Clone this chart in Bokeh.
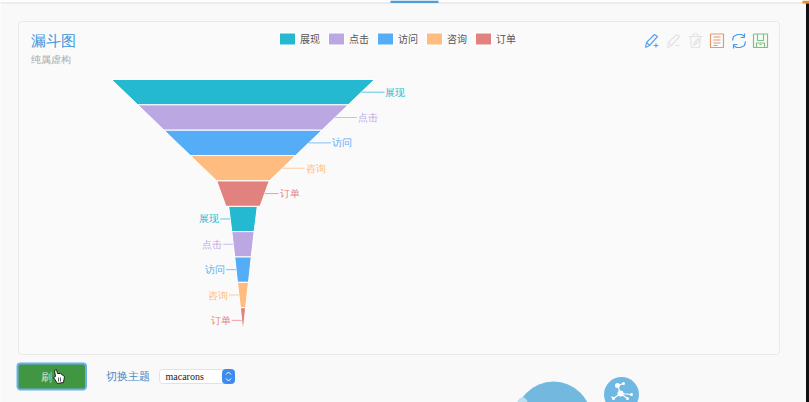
from bokeh.embed import file_html
from bokeh.models import Legend, LegendItem, Range1d
from bokeh.plotting import figure
from bokeh.resources import INLINE

CJK = "Noto Sans CJK SC"

names = ["展现", "点击", "访问", "咨询", "订单"]
colors = ["#25b9d1", "#bba8e3", "#56adf7", "#febc80", "#e2827f"]
upper_values = [100, 80, 60, 40, 20]
upper_end = 13
lower_values = [10.9, 8.5, 6.3, 4.2, 2.0]
lower_end = 0

title = "漏斗图"
subtitle = "纯属虚构"
button_text = "刷"
theme_label = "切换主题"
theme_value = "macarons"

# page chrome is laid out in window pixels, the page template has no margin here
p = figure(width=809, height=402, output_backend="svg", toolbar_location=None,
           x_range=Range1d(0, 809), y_range=Range1d(402, 0),
           x_axis_location=None, y_axis_location=None, min_border=0)
p.grid.visible = False
p.outline_line_color = None
p.background_fill_color = "#f9f9f9"
p.border_fill_color = "#f9f9f9"

# funnel scale: x in funnel value units around the centre, y in stages
p.extra_x_ranges["funnel"] = Range1d(-92.2, 215.4)
p.extra_y_ranges["stage"] = Range1d(12.74, -3.116)

leader_up = [8.8, 8.4, 8.4, 8.4, 5.3]
leader_lo = 3.8


def label(x, y, text, color, size, align="left"):
    p.text([x], [y], text=[text], text_color=color, text_font=CJK, text_font_size=size,
           text_align=align, text_baseline="middle")


def lines(x0, y0, paths, color, width=1.2):
    p.multi_line([[x0 + a for a, _ in path] for path in paths],
                 [[y0 + b for _, b in path] for path in paths],
                 line_color=color, line_width=width)


# browser edge and top nav bar
p.quad(left=0, right=809, top=0, bottom=2, fill_color="#ffffff", line_color=None)
p.quad(left=0, right=805, top=2, bottom=3, fill_color="#dedede", line_color=None)
p.quad(left=390, right=438, top=0, bottom=2.5, fill_color="#4f9ed6", line_color=None)
p.quad(left=802, right=809, top=0, bottom=3, fill_color="#f08a2c", line_color=None)
p.quad(left=805.5, right=809, top=3, bottom=402, fill_color="#111111", line_color=None)

# card
p.quad(left=18, right=779, top=21, bottom=354, fill_color="#fbfafb",
       line_color="#e9e9e9", border_radius=3)
label(30.5, 40.5, title, "#3a96dc", "14.5px")
label(30.5, 59, subtitle, "#aaaaaa", "10px")

# funnel
items = []
for i, name in enumerate(names):
    up_next = upper_values[i + 1] if i < 4 else upper_end
    lo_next = lower_values[i + 1] if i < 4 else lower_end
    up, lo = upper_values[i], lower_values[i]
    r = p.patches(
        xs=[[-up / 2, up / 2, up_next / 2, -up_next / 2],
            [-lo / 2, lo / 2, lo_next / 2, -lo_next / 2]],
        ys=[[i, i, i + 1, i + 1], [i + 5, i + 5, i + 6, i + 6]],
        fill_color=colors[i], line_color="#ffffff", line_width=1,
        x_range_name="funnel", y_range_name="stage")
    items.append(LegendItem(label=name, renderers=[r]))

    # leader lines and labels
    x_up = (up + up_next) / 4
    x_lo = -(lo + lo_next) / 4
    p.segment([x_up], [i + 0.5], [x_up + leader_up[i]], [i + 0.5], line_color=colors[i], line_alpha=0.75,
              x_range_name="funnel", y_range_name="stage")
    p.segment([x_lo], [i + 5.5], [x_lo - leader_lo], [i + 5.5], line_color=colors[i], line_alpha=0.75,
              x_range_name="funnel", y_range_name="stage")
    p.text([x_up + leader_up[i]], [i + 0.5], text=[name], text_color=colors[i], text_font=CJK,
           text_font_size="10px", text_baseline="middle", x_offset=1,
           x_range_name="funnel", y_range_name="stage")
    p.text([x_lo - leader_lo], [i + 5.5], text=[name], text_color=colors[i], text_font=CJK,
           text_font_size="10px", text_baseline="middle", text_align="right", x_offset=-1,
           x_range_name="funnel", y_range_name="stage")

legend = Legend(items=items, orientation="horizontal", location=(277, 356.5), padding=0, margin=0,
                spacing=6, glyph_width=20, glyph_height=15, label_standoff=3,
                label_text_font=CJK, label_text_font_size="10px", label_text_color="#555555",
                background_fill_alpha=0, border_line_color=None, label_height=12)
p.add_layout(legend)

# toolbox icons
lines(644, 33, [[(1, 14), (2, 9), (10, 1), (13, 3), (5, 12), (1, 14)], [(2, 9), (5, 12)],
                [(9, 12), (14, 12)], [(11.5, 10), (11.5, 14)]], "#5ba3ee")
lines(666, 33, [[(1, 14), (2, 9), (10, 1), (13, 3), (5, 12), (1, 14)], [(2, 9), (5, 12)],
                [(9, 12), (13, 12)]], "#e3e3e3")
lines(688, 33, [[(0, 3), (14, 3)], [(4, 3), (5, 0.5), (9, 0.5), (10, 3)],
                [(2, 3), (3, 14), (11, 14), (12, 3)], [(5, 12), (6, 9), (10, 5), (11, 7), (7, 11), (5, 12)]],
      "#e3e3e3")
lines(710, 33, [[(0, 0.5), (13, 0.5), (13, 14), (0, 14), (0, 0.5)], [(3, 3.5), (10, 3.5)], [(3, 6.5), (10, 6.5)],
                [(3, 9.5), (10, 9.5)], [(3, 12), (7, 12)]], "#e09a6b")
lines(731, 33, [[(1, 7), (2, 3), (6, 1), (10, 1), (13, 3)], [(13, 0), (13, 4), (9, 4)],
                [(14, 8), (13, 12), (9, 14), (5, 14), (2, 12)], [(2, 15), (2, 11), (6, 11)]], "#4a9bee")
lines(753, 33, [[(0, 0.5), (14, 0.5), (14, 14), (0, 14), (0, 0.5)], [(4, 0.5), (4, 7), (10, 7), (10, 0.5)],
                [(3, 14), (3, 9.5), (11, 9.5), (11, 14)], [(6, 11), (8, 11)]], "#7ac47a")

# refresh button
p.quad(left=17, right=85.5, top=363, bottom=389, fill_color="#419641", line_color="#6aaef0",
       line_width=2, border_radius=3)
label(40, 376.5, button_text, "#cfe5cf", "11px")
hand = [(54, 370), (56, 369), (57, 373), (60, 373), (64, 376), (63, 382), (57, 383), (53, 377), (55, 376)]
p.patch([a for a, _ in hand], [b for _, b in hand], fill_color="#ffffff", line_color="#222222", line_width=1)
p.multi_line([[58, 58], [60, 60]], [[377, 381], [377, 381]], line_color="#333333", line_width=0.8)

# theme switch
label(105, 375, theme_label, "#4a86c8", "11px")
p.quad(left=159, right=234, top=369, bottom=383, fill_color="#ffffff", line_color="#e2e2e2",
       border_radius=3)
p.quad(left=222, right=234, top=369, bottom=383, fill_color="#3f8cf0", line_color="#3f8cf0",
       border_radius=3)
p.text([165], [376], text=[theme_value], text_color="#222222", text_font="Liberation Sans",
       text_font_size="10px", text_baseline="middle")
lines(225, 371, [[(0.5, 3), (3, 0.5), (5.5, 3)], [(0.5, 7), (3, 9.5), (5.5, 7)]], "#ffffff", 1)

# bubbles along the bottom of the window
p.circle([553], [419], radius=38, fill_color="#72b8df", line_color=None)
p.circle([522], [402], radius=5, fill_color="#bcdff0", line_color=None)
p.circle([621], [394], radius=17.5, fill_color="#6fb8e3", line_color=None)
lines(0, 0, [[(617, 385), (620, 393), (613, 398)], [(617, 385), (623, 383)],
             [(620, 393), (631, 394)], [(620, 393), (627, 398)], [(613, 398), (611, 396)]], "#ffffff", 1.2)
p.circle([617, 623, 620, 631, 613, 627], [385, 383, 393, 394, 398, 398],
         radius=[2.5, 1.5, 3, 1.5, 1.5, 1.5], fill_color="#ffffff", line_color=None)

open("out.html", "w").write(file_html(p, INLINE))
